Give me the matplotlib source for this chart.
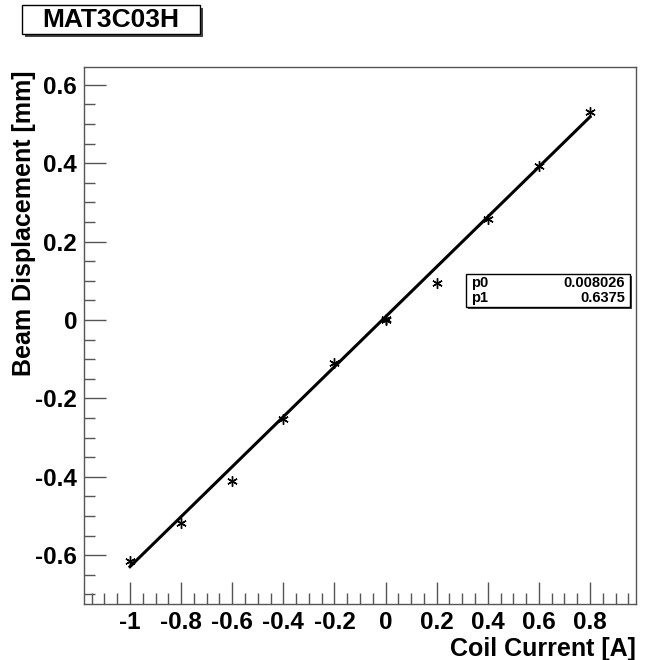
import numpy as np
import matplotlib.pyplot as plt
from matplotlib.ticker import MultipleLocator
from matplotlib.patches import Rectangle

# Measured points
current = [-1.0, -0.8, -0.6, -0.4, -0.2, 0.0, 0.0, 0.2, 0.4, 0.6, 0.8]
displacement = [-0.615, -0.518, -0.412, -0.253, -0.110, 0.000, 0.003, 0.093, 0.257, 0.393, 0.530]

# Linear fit parameters (stats box)
p0 = 0.008026
p1 = 0.6375

plt.rcParams['font.family'] = ['Liberation Sans', 'DejaVu Sans']
plt.rcParams['font.weight'] = 'bold'

fig = plt.figure(figsize=(6.51, 6.60), dpi=100)
ax = fig.add_axes([0.129, 0.085, 0.848, 0.813])

# Fit line
fx = np.array([min(current), max(current)])
ax.plot(fx, p0 + p1 * fx, color='black', lw=2.2, zorder=2)

# Data points
ax.plot(current, displacement, ls='none', marker=(6, 2, 0), ms=7.5, mew=1.0,
        color='black', zorder=3)

ax.set_xlim(-1.18, 0.98)
ax.set_ylim(-0.7245, 0.6445)

ax.xaxis.set_major_locator(MultipleLocator(0.2))
ax.xaxis.set_minor_locator(MultipleLocator(0.05))
ax.yaxis.set_major_locator(MultipleLocator(0.2))
ax.yaxis.set_minor_locator(MultipleLocator(0.05))

def fmt(v, pos):
    s = '%g' % round(v, 2)
    return '0' if s in ('-0', '0') else s

ax.xaxis.set_major_formatter(plt.FuncFormatter(fmt))
ax.yaxis.set_major_formatter(plt.FuncFormatter(fmt))

ax.tick_params(which='both', direction='in', top=False, right=False,
               color='#555555', width=1.0)
ax.tick_params(which='major', length=16, labelsize=17.5, pad=5)
ax.tick_params(which='minor', length=8)
for lab in ax.get_xticklabels() + ax.get_yticklabels():
    lab.set_fontweight('bold')

for sp in ax.spines.values():
    sp.set_color('#555555')
    sp.set_linewidth(1.0)

ax.set_xlabel('Coil Current [A]', fontsize=18, fontweight='bold', loc='right', labelpad=2)
ax.set_ylabel('Beam Displacement [mm]', fontsize=18, fontweight='bold', loc='top')
ax.yaxis.set_label_coords(-0.087, 0.995)

# Title box with shadow
W, H = 651, 660
def px_box(x0, y0, x1, y1, shadow=3):
    fig.patches.append(Rectangle((x0 / W + shadow / W, 1 - (y1 + shadow) / H),
                                 (x1 - x0) / W, (y1 - y0) / H,
                                 transform=fig.transFigure, facecolor='#444444',
                                 edgecolor='none', zorder=5))
    fig.patches.append(Rectangle((x0 / W, 1 - y1 / H), (x1 - x0) / W, (y1 - y0) / H,
                                 transform=fig.transFigure, facecolor='white',
                                 edgecolor='black', lw=1.0, zorder=6))

px_box(22, 5, 200, 34, shadow=3)
fig.text(111 / W, 1 - 20 / H, 'MAT3C03H', ha='center', va='center',
         fontsize=19, fontweight='bold', zorder=7)

# Stats box
px_box(466, 274, 630, 307, shadow=2)
fig.text(471 / W, 1 - 283 / H, 'p0', ha='left', va='center', fontsize=10.5,
         fontweight='bold', zorder=7)
fig.text(471 / W, 1 - 298 / H, 'p1', ha='left', va='center', fontsize=10.5,
         fontweight='bold', zorder=7)
fig.text(625 / W, 1 - 283 / H, '%.6f' % p0, ha='right', va='center', fontsize=10.5,
         fontweight='bold', zorder=7)
fig.text(625 / W, 1 - 298 / H, '%.4f' % p1, ha='right', va='center', fontsize=10.5,
         fontweight='bold', zorder=7)

fig.savefig('out.png', dpi=100)
